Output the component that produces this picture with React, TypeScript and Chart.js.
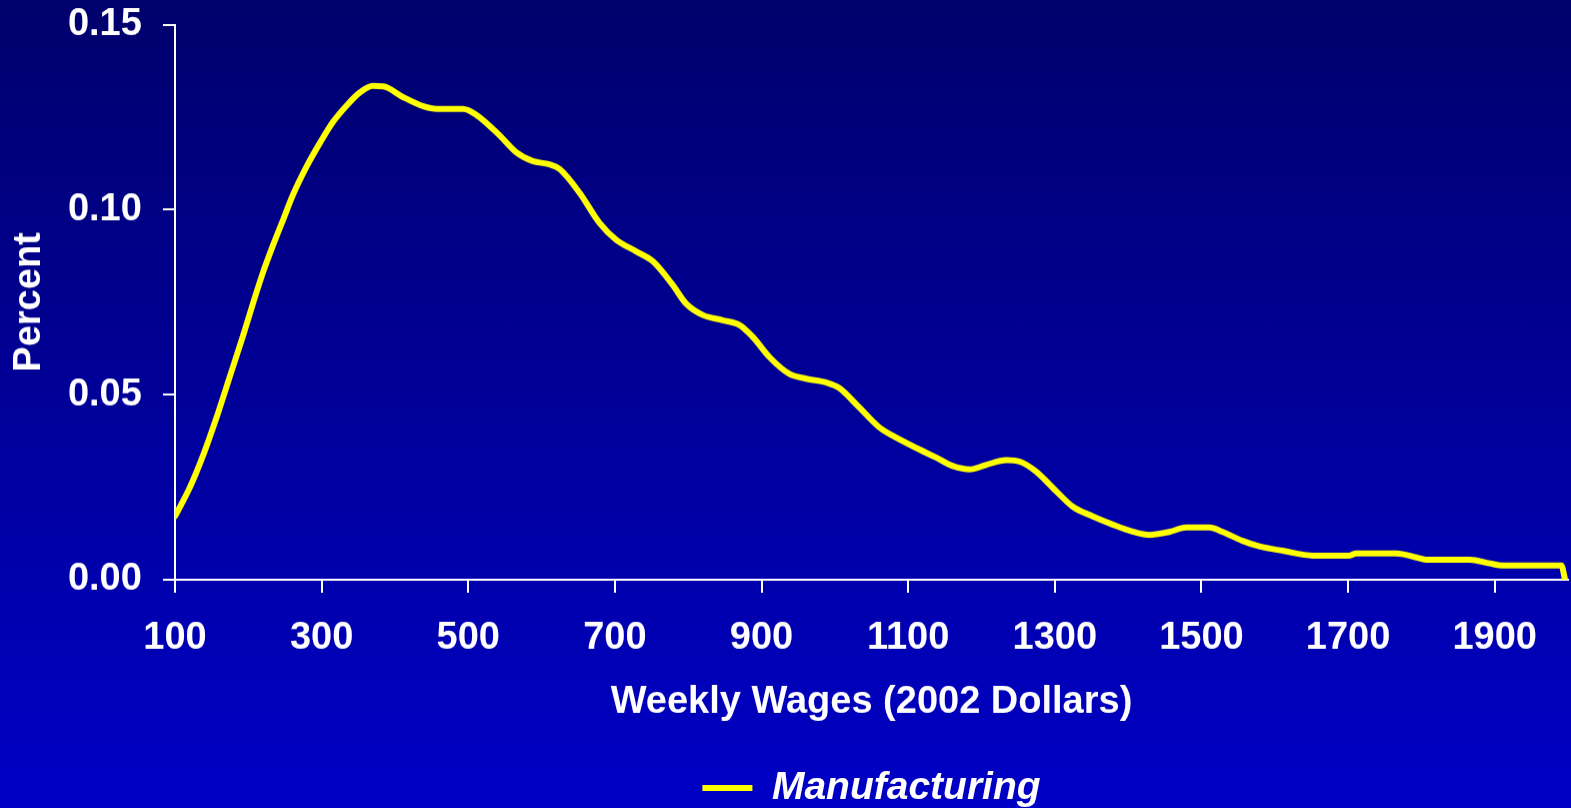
import React, { useEffect, useRef } from "react";
import { Chart, registerables } from "chart.js";

Chart.register(...registerables);

// Weekly wage levels (2002 dollars)
const wages = [
  100, 120, 139, 157, 175, 193, 207, 220, 234, 248, 261, 280, 298, 316, 334,
  352, 370, 384, 411, 439, 457, 493, 511, 543, 566, 588, 611, 625, 652, 679,
  702, 729, 752, 779, 797, 820, 847, 870, 888, 911, 938, 961, 988, 1006, 1033,
  1061, 1079, 1115, 1138, 1161, 1184, 1206, 1234, 1252, 1274, 1302, 1324,
  1352, 1379, 1406, 1429, 1456, 1479, 1511, 1529, 1556, 1579, 1611, 1652,
  1702, 1711, 1766, 1793, 1806, 1866, 1893, 1911, 1991, 1996,
];

// Manufacturing share (percent density)
const shares = [
  0.0171, 0.0248, 0.0339, 0.044, 0.055, 0.066, 0.075, 0.083, 0.0905, 0.0975,
  0.104, 0.1118, 0.1181, 0.1238, 0.1281, 0.1316, 0.1334, 0.1333, 0.1304,
  0.1279, 0.1272, 0.1272, 0.1256, 0.12, 0.1154, 0.1131, 0.1122, 0.1109,
  0.1045, 0.0964, 0.0918, 0.0887, 0.086, 0.0796, 0.0746, 0.0715, 0.0701,
  0.0688, 0.0656, 0.0601, 0.0556, 0.0543, 0.0533, 0.0518, 0.0466, 0.0411,
  0.0389, 0.0352, 0.033, 0.0307, 0.0298, 0.031, 0.0323, 0.0319, 0.0293,
  0.0239, 0.0198, 0.0171, 0.0149, 0.013, 0.0121, 0.0129, 0.0141, 0.0141,
  0.0129, 0.0105, 0.009, 0.0078, 0.0065, 0.0065, 0.0071, 0.0071, 0.006,
  0.0054, 0.0054, 0.0044, 0.0038, 0.0038, 0.0,
];

const xTickValues = [100, 300, 500, 700, 900, 1100, 1300, 1500, 1700, 1900];
const yTickValues = [0, 0.05, 0.1, 0.15];

const seriesLabel = "Manufacturing";
const xTitle = "Weekly Wages (2002 Dollars)";
const yTitle = "Percent";

const FONT = "'Liberation Sans', Arial, Helvetica, sans-serif";

export default function App() {
  const ref = useRef<HTMLCanvasElement>(null);

  useEffect(() => {
    if (!ref.current) return;
    const chart = new Chart(ref.current, {
      type: "line",
      data: {
        datasets: [
          {
            label: seriesLabel,
            data: wages.map((x, i) => ({ x, y: shares[i] })),
            borderColor: "#FFFF00",
            backgroundColor: "#FFFF00",
            borderWidth: 6,
            pointRadius: 0,
            pointHoverRadius: 0,
            pointStyle: "line",
            cubicInterpolationMode: "monotone",
            borderCapStyle: "round",
            borderJoinStyle: "round",
            fill: false,
          },
        ],
      },
      options: {
        animation: false,
        responsive: true,
        maintainAspectRatio: false,
        layout: { padding: { top: 24.5, left: 0, right: 3, bottom: 0 } },
        plugins: {
          legend: {
            position: "bottom",
            fullSize: false,
            labels: {
              color: "#FFFFFF",
              font: { family: FONT, size: 39, weight: "bold", style: "italic" },
              usePointStyle: true,
              pointStyleWidth: 50,
              padding: 10,
            },
          },
          tooltip: { enabled: false },
        },
        scales: {
          x: {
            type: "linear",
            min: 100,
            max: 2000,
            afterBuildTicks: (axis: any) => {
              axis.ticks = xTickValues.map((v) => ({ value: v }));
            },
            ticks: {
              color: "#FFFFFF",
              font: { family: FONT, size: 38, weight: "bold" },
              padding: 22.5,
              maxRotation: 0,
              autoSkip: false,
              callback: (v: any) => String(v),
            },
            grid: {
              drawOnChartArea: false,
              drawTicks: true,
              tickLength: 13,
              color: "#FFFFFF",
              lineWidth: 2,
            },
            border: { display: true, color: "#FFFFFF", width: 2 },
            title: {
              display: true,
              text: xTitle,
              color: "#FFFFFF",
              font: { family: FONT, size: 38, weight: "bold", lineHeight: 1 },
              padding: { top: 0, bottom: 37 },
            },
          },
          y: {
            type: "linear",
            min: 0,
            max: 0.15,
            afterBuildTicks: (axis: any) => {
              axis.ticks = yTickValues.map((v) => ({ value: v }));
            },
            ticks: {
              color: "#FFFFFF",
              font: { family: FONT, size: 38, weight: "bold" },
              padding: 0,
              callback: (v: any) => Number(v).toFixed(2) + "  ",
            },
            grid: {
              drawOnChartArea: false,
              drawTicks: true,
              tickLength: 12,
              color: "#FFFFFF",
              lineWidth: 2,
            },
            border: { display: true, color: "#FFFFFF", width: 2 },
            title: {
              display: true,
              text: yTitle,
              color: "#FFFFFF",
              font: { family: FONT, size: 38, weight: "bold" },
              padding: { top: 7, bottom: 15.3 },
            },
          },
        },
      },
    });
    return () => chart.destroy();
  }, []);

  return (
    <div
      style={{
        position: "absolute",
        left: 0,
        top: 0,
        width: 1571,
        height: 808,
        overflow: "hidden",
        background: "linear-gradient(to bottom, #00006C 0%, #0000C6 100%)",
      }}
    >
      <div style={{ position: "relative", width: 1571, height: 816.5 }}>
        <canvas ref={ref} />
      </div>
    </div>
  );
}
